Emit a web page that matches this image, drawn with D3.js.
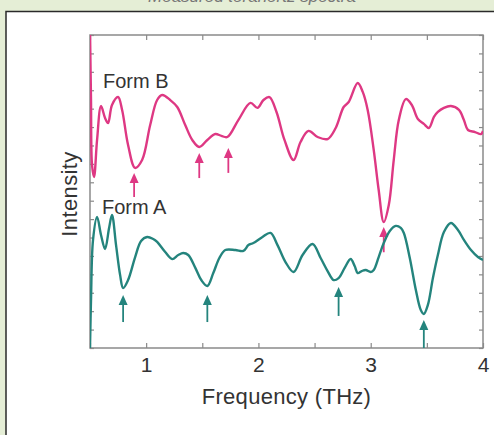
<!DOCTYPE html>
<html>
<head>
<meta charset="utf-8">
<script src="https://cdn.jsdelivr.net/npm/d3@7"></script>
<style>
html,body{margin:0;padding:0;background:#e5eed6;}
svg{display:block;}
text{font-family:"Liberation Sans",Arial,sans-serif;}
</style>
</head>
<body>
<svg id="chart" width="494" height="435"></svg>
<script>
// Frequency (THz) and relative intensity (arbitrary units)
const formBFreq = [0.5,0.509,0.518,0.536,0.563,0.598,0.634,0.661,0.696,0.75,0.786,0.839,0.902,0.964,1.036,1.098,1.143,1.214,1.277,1.348,1.411,1.473,1.545,1.616,1.67,1.723,1.821,1.929,1.991,2.045,2.098,2.161,2.232,2.313,2.375,2.446,2.527,2.616,2.688,2.759,2.804,2.884,2.929,2.973,3.027,3.071,3.116,3.161,3.205,3.25,3.313,3.366,3.42,3.473,3.518,3.563,3.598,3.652,3.714,3.786,3.83,3.866,3.929,3.982,4.0];
const formBValue = [17.3,13.47,9.94,9.29,11.3,13.14,12.49,12.22,13.2,13.63,12.93,11.03,9.78,10.21,12.11,13.47,13.74,13.47,13.09,12.11,11.3,10.92,11.3,11.62,11.52,11.46,12.38,13.31,13.04,13.47,13.63,12.82,11.3,10.21,11.19,11.79,11.46,11.35,11.95,13.09,13.36,14.39,13.91,12.93,10.75,8.58,6.84,7.77,10.21,12.38,13.52,13.2,12.44,12.17,11.95,12.55,12.82,13.04,13.14,12.93,12.38,11.84,11.73,11.62,11.79];

const formAFreq = [0.5,0.509,0.527,0.563,0.598,0.634,0.67,0.696,0.732,0.768,0.795,0.839,0.902,0.955,1.009,1.063,1.098,1.17,1.232,1.286,1.33,1.375,1.438,1.491,1.545,1.598,1.652,1.705,1.795,1.866,1.911,1.955,2.036,2.107,2.17,2.241,2.313,2.393,2.482,2.554,2.616,2.67,2.714,2.768,2.821,2.857,2.884,2.92,2.955,3.0,3.027,3.071,3.116,3.17,3.223,3.268,3.295,3.348,3.402,3.446,3.473,3.509,3.554,3.598,3.652,3.714,3.777,3.83,3.893,3.955,4.0];
const formAValue = [0,2.61,5.87,7.12,6.14,5.38,6.52,7.22,5.59,3.97,3.26,3.69,4.94,5.81,6.03,5.92,5.76,5.21,4.83,5.05,5.16,5.05,4.35,3.69,3.37,4.07,4.89,5.32,5.32,5.27,5.59,5.7,6.03,6.25,5.59,4.67,4.13,5.05,5.65,4.89,4.18,3.69,3.8,4.35,4.83,4.45,4.07,4.18,4.24,4.13,4.24,4.94,5.7,6.36,6.63,6.52,6.25,4.89,3.15,2.06,1.85,2.34,3.8,5.05,6.3,6.79,6.41,5.87,5.32,4.94,4.78];

// Arrows: frequency, tail value, tip value
const arrowBFreq = [0.893,1.473,1.732,3.116];
const arrowBTail = [8.2,9.23,9.51,5.2];
const arrowBTip  = [9.51,10.59,10.86,6.57];
const arrowAFreq = [0.795,1.545,2.714,3.473];
const arrowATail = [1.41,1.41,1.74,0];
const arrowATip  = [2.88,2.88,3.31,1.52];

const xTicks = [1,2,3,4];
const xMinorTicks = [0.5,1,1.5,2,2.5,3,3.5,4];
const yTicks = d3.range(0,18);
const seriesLabels = ["Form B","Form A"];

const colB = "#de3883", colA = "#24847d";

const svg = d3.select("#chart");
// panel
svg.append("rect").attr("x",6).attr("y",11.5).attr("width",500).attr("height",440)
  .attr("fill","#fff").attr("stroke","#2a2a2a").attr("stroke-width",1.5);
// cut-off title (cropped in the original too)
svg.append("text").attr("x",252).attr("y",2).attr("text-anchor","middle")
  .attr("font-style","italic").attr("font-size",17).attr("fill","#777")
  .text("Measured terahertz spectra");

const L=90,R=483,T=35,B=348;
const x = d3.scaleLinear().domain([0.5,4]).range([L,R]);
const y = d3.scaleLinear().domain([0,17]).range([B,T]);

const g = svg.append("g");
const frameCol="#8a8a8a";
g.append("rect").attr("x",L).attr("y",T).attr("width",R-L).attr("height",B-T)
  .attr("fill","none").attr("stroke",frameCol).attr("stroke-width",1.5);

const axB = d3.axisBottom(x).tickValues(xMinorTicks).tickSize(-5).tickFormat("");
const axT = d3.axisTop(x).tickValues(xMinorTicks).tickSize(-5).tickFormat("");
const axL = d3.axisLeft(y).tickValues(yTicks).tickSize(-4).tickFormat("");
const axR = d3.axisRight(y).tickValues(yTicks).tickSize(-4).tickFormat("");
function styleAxis(sel){sel.select(".domain").remove();sel.selectAll("line").attr("stroke",frameCol).attr("stroke-width",1.2);}
g.append("g").attr("transform",`translate(0,${B})`).call(axB).call(styleAxis);
g.append("g").attr("transform",`translate(0,${T})`).call(axT).call(styleAxis);
g.append("g").attr("transform",`translate(${L},0)`).call(axL).call(styleAxis);
g.append("g").attr("transform",`translate(${R},0)`).call(axR).call(styleAxis);

// tick labels
g.append("g").attr("transform",`translate(0,${B})`)
  .call(d3.axisBottom(x).tickValues(xTicks).tickSize(0).tickPadding(9).tickFormat(d3.format("d")))
  .call(s=>{s.select(".domain").remove();s.selectAll("text").attr("font-size",21).attr("fill","#333").attr("font-family","Liberation Sans, Arial, sans-serif");});

// axis titles
svg.append("text").attr("x",(L+R)/2).attr("y",404).attr("text-anchor","middle")
  .attr("font-size",22).attr("letter-spacing",0.3).attr("fill","#333").text("Frequency (THz)");
svg.append("text").attr("transform","translate(77,194) rotate(-90)").attr("text-anchor","middle")
  .attr("font-size",22).attr("letter-spacing",0.4).attr("fill","#333").text("Intensity");

svg.append("clipPath").attr("id","clip").append("rect").attr("x",L).attr("y",T).attr("width",R-L).attr("height",B-T);

const line = d3.line().x(d=>x(d[0])).y(d=>y(d[1])).curve(d3.curveCatmullRom.alpha(0.5));
const dataB = formBFreq.map((f,i)=>[f,formBValue[i]]);
const dataA = formAFreq.map((f,i)=>[f,formAValue[i]]);

const plot = svg.append("g").attr("clip-path","url(#clip)");

function arrows(freqs,tails,tips,col){
  freqs.forEach((f,i)=>{
    const px=x(f), ty=y(tips[i]), by=y(tails[i]);
    plot.append("line").attr("x1",px).attr("x2",px).attr("y1",ty+6).attr("y2",by)
      .attr("stroke",col).attr("stroke-width",1.8);
    plot.append("path").attr("d",`M${px},${ty} L${px-4.5},${ty+10} L${px+4.5},${ty+10} Z`).attr("fill",col);
  });
}
arrows(arrowBFreq,arrowBTail,arrowBTip,colB);
plot.append("path").datum(dataB).attr("d",line).attr("fill","none").attr("stroke",colB).attr("stroke-width",2.4).attr("stroke-linejoin","round");
plot.append("path").datum(dataA).attr("d",line).attr("fill","none").attr("stroke",colA).attr("stroke-width",2.4).attr("stroke-linejoin","round");
arrows(arrowAFreq,arrowATail,arrowATip,colA);

// series labels
svg.append("text").attr("x",103).attr("y",88).attr("font-size",20).attr("fill","#333").text(seriesLabels[0]);
svg.append("text").attr("x",102).attr("y",214).attr("font-size",20).attr("fill","#333").text(seriesLabels[1]);
</script>
</body>
</html>
